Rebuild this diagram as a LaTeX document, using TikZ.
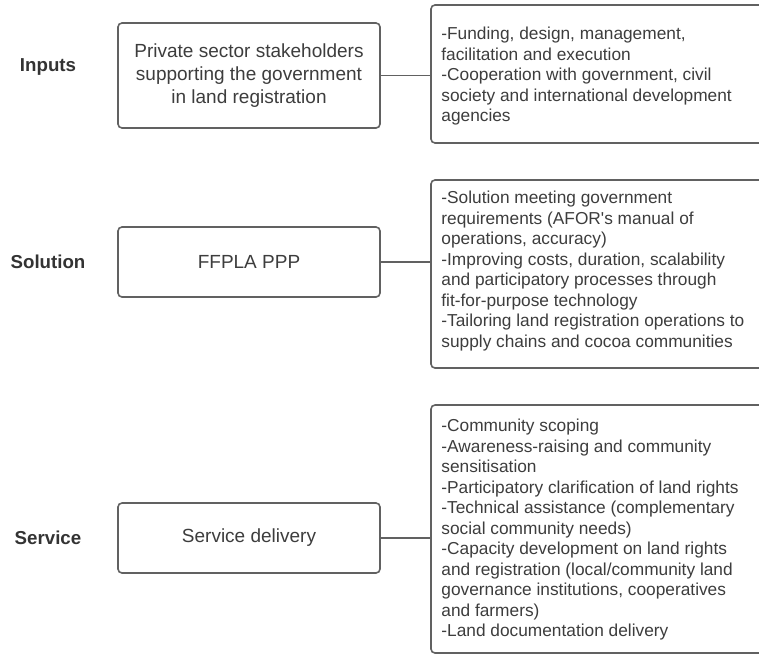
\documentclass[tikz,border=0pt]{standalone}
\usepackage{fontspec}
\setmainfont{Liberation Sans}
\begin{document}
\begin{tikzpicture}[x=1pt,y=-1pt,
  edge/.style={draw=boxgray,line width=1.5pt},
  stagebox/.style={draw=boxgray,line width=1.6pt,rounded corners=4pt,
    minimum width=262pt,minimum height=70pt,inner sep=0pt,
    text=txtgray,align=center,font=\fontsize{19}{23.3}\selectfont},
  detailbox/.style={draw=boxgray,line width=1.6pt,rounded corners=4pt,
    minimum width=339pt,inner sep=0pt},
  detailtext/.style={anchor=north west,inner sep=0pt,align=left,text=txtgray,
    font=\fontsize{17.3}{20.5}\selectfont},
  rowlabel/.style={text=lblgray,font=\fontsize{18.7}{22}\selectfont\bfseries}]
\definecolor{boxgray}{HTML}{616161}
\definecolor{txtgray}{HTML}{3D3D3D}
\definecolor{lblgray}{HTML}{333333}
\useasboundingbox (0,0) rectangle (759,654);
\clip (0,0) rectangle (759,654);
\fill[white] (0,0) rectangle (759,654);

% row labels
\node[rowlabel] (lin) at (48,67) {Inputs};
\node[rowlabel] (lsol) at (48,261.5) {Solution};
\node[rowlabel] (lser) at (48,537.5) {Service};

% stage boxes
\node[stagebox,minimum height=105pt] (inputs) at (249,75.5)
  {Private sector stakeholders\\supporting the government\\in land registration};
\node[stagebox] (solution) at (249,262) {FFPLA PPP};
\node[stagebox] (service) at (249,538) {Service delivery};

% detail boxes
\node[detailbox,minimum height=138pt] (dinputs) at (600.5,74) {};
\node[detailbox,minimum height=188pt] (dsolution) at (600.5,274) {};
\node[detailbox,minimum height=248pt] (dservice) at (600.5,529) {};

\node[detailtext] (tinputs) at ([xshift=11pt,yshift=-23pt]dinputs.north west)
  {-Funding, design, management,\\facilitation and execution\\-Cooperation with government, civil\\society and international development\\agencies};
\node[detailtext] (tsolution) at ([xshift=11pt,yshift=-12pt]dsolution.north west)
  {-Solution meeting government\\requirements (AFOR\textquotesingle s manual of\\operations, accuracy)\\-Improving costs, duration, scalability\\and participatory processes through\\fit-for-purpose technology\\-Tailoring land registration operations to\\supply chains and cocoa communities};
\node[detailtext] (tservice) at ([xshift=11pt,yshift=-15pt]dservice.north west)
  {-Community scoping\\-Awareness-raising and community\\sensitisation\\-Participatory clarification of land rights\\-Technical assistance (complementary\\social community needs)\\-Capacity development on land rights\\and registration (local/community land\\governance institutions, cooperatives\\and farmers)\\-Land documentation delivery};

% connectors
\draw[edge] (inputs.east) -- (inputs.east -| dinputs.west);
\draw[edge] (solution.east) -- (solution.east -| dsolution.west);
\draw[edge] (service.east) -- (service.east -| dservice.west);
\end{tikzpicture}
\end{document}
